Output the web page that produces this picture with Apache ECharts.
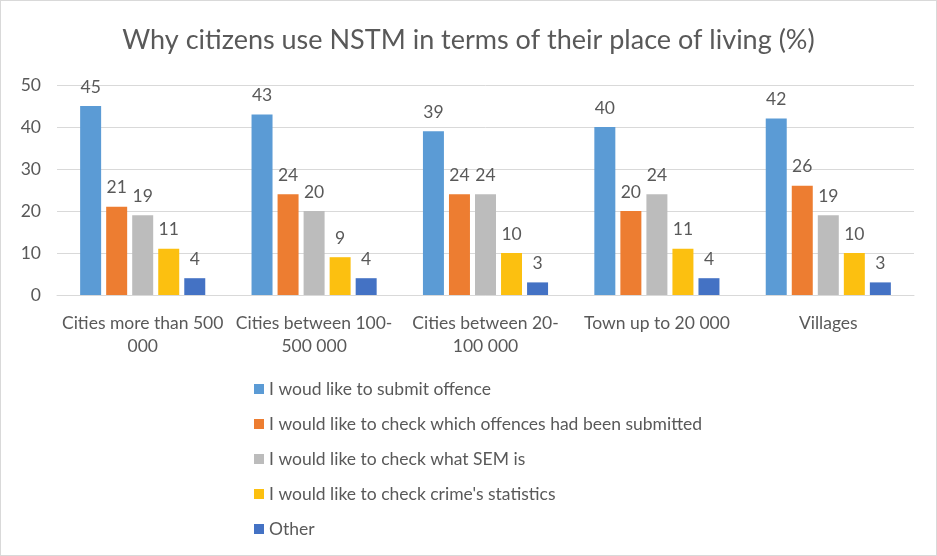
<!DOCTYPE html>
<html>
<head>
<meta charset="utf-8">
<script src="https://cdn.jsdelivr.net/npm/echarts@6/dist/echarts.min.js"></script>
<style>
  html, body { margin: 0; padding: 0; background: #fff; }
  #chart { width: 935px; height: 554px; border: 1px solid #d9d9d9; }
</style>
</head>
<body>
<div id="chart"></div>
<script>
// categories (place of living)
const categories = [
  "Cities more than 500\n000",
  "Cities between 100-\n500 000",
  "Cities between 20-\n100 000",
  "Town up to 20 000",
  "Villages",
];

// answers, % per category
const submitOffence = [45, 43, 39, 40, 42];
const checkSubmitted = [21, 24, 24, 20, 26];
const checkSem = [19, 20, 24, 24, 19];
const checkStatistics = [11, 9, 10, 11, 10];
const other = [4, 4, 3, 4, 3];

const seriesNames = [
  "I woud like to submit offence",
  "I would like to check which offences had been submitted",
  "I would like to check what SEM is",
  "I would like to check crime's statistics",
  "Other",
];
const seriesData = [submitOffence, checkSubmitted, checkSem, checkStatistics, other];
const colors = ["#5b9bd5", "#ed7d31", "#bcbcbc", "#fcc010", "#4472c4"];

const fontFamily = "Lato, 'Open Sans', sans-serif";
const textColor = "#595959";

const chart = echarts.init(document.getElementById("chart"));

const option = {
  backgroundColor: "#fff",
  color: colors,
  title: {
    text: "Why citizens use NSTM in terms of their place of living (%)",
    left: "center",
    top: 21,
    textStyle: {
      color: textColor,
      fontSize: 27,
      fontWeight: "normal",
      fontFamily: fontFamily,
    },
  },
  legend: {
    orient: "vertical",
    left: 248,
    top: 374,
    itemWidth: 10,
    itemHeight: 10,
    itemGap: 17,
    icon: "rect",
    textStyle: {
      color: textColor,
      fontSize: 17.5,
      fontFamily: fontFamily,
    },
    data: seriesNames,
  },
  grid: {
    left: 56,
    right: 22,
    top: 84,
    bottom: 260,
  },
  xAxis: {
    type: "category",
    data: categories,
    axisLine: { lineStyle: { color: "#d9d9d9" } },
    axisTick: { show: false },
    axisLabel: {
      color: textColor,
      fontSize: 17.5,
      fontFamily: fontFamily,
      margin: 17,
      lineHeight: 23,
      interval: 0,
    },
  },
  yAxis: {
    type: "value",
    min: 0,
    max: 50,
    interval: 10,
    axisLine: { show: false },
    axisTick: { show: false },
    axisLabel: {
      color: textColor,
      fontSize: 17.5,
      fontFamily: fontFamily,
      margin: 16,
    },
    splitLine: { lineStyle: { color: "#d9d9d9" } },
  },
  series: seriesNames.map((name, i) => ({
    name: name,
    type: "bar",
    data: seriesData[i],
    barGap: "24%",
    barCategoryGap: "27%",
    label: {
      show: true,
      position: "top",
      distance: 10,
      color: textColor,
      fontSize: 17.5,
      fontFamily: fontFamily,
    },
    animation: false,
  })),
};

chart.setOption(option);
</script>
</body>
</html>
